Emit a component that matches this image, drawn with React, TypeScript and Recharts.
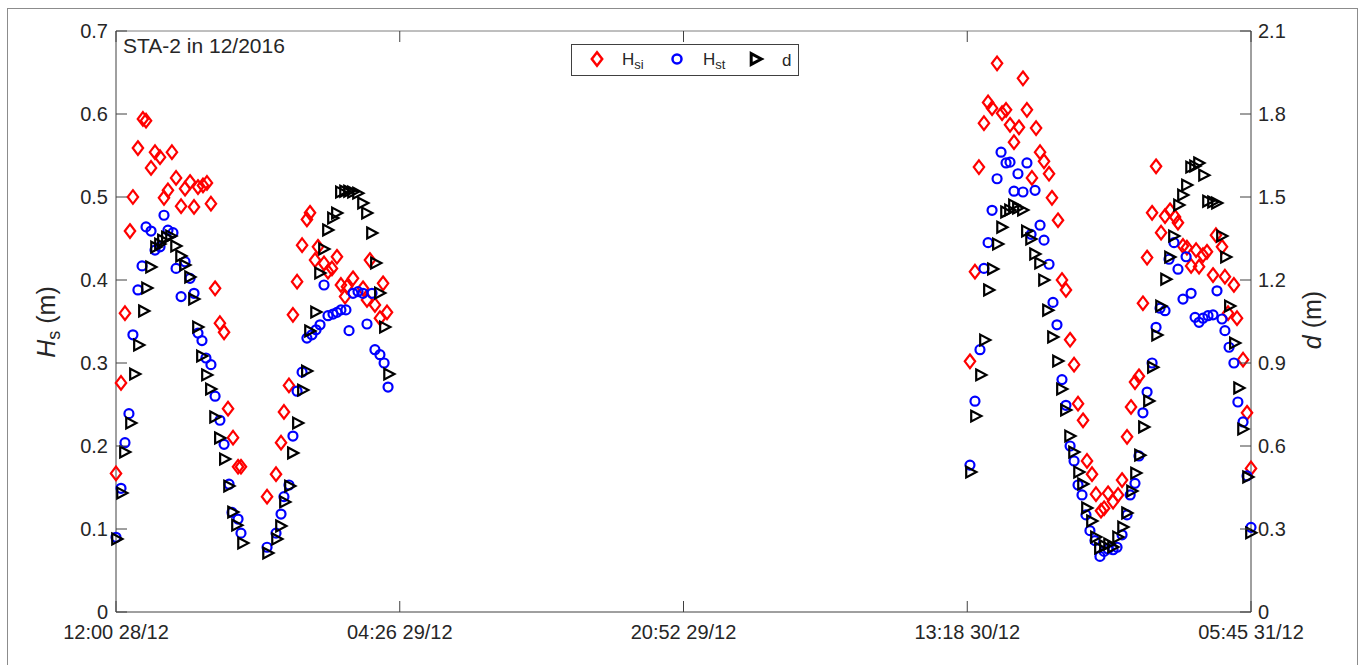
import { ScatterChart, Scatter, XAxis, YAxis, ReferenceLine } from "recharts";

// time in hours after 12:00 28/12
const hsiTime = [
  0, 0.29, 0.52, 0.81, 0.98, 1.27, 1.56, 1.74, 2.03, 2.26, 2.55, 2.78, 3.01, 3.24, 3.48, 3.77, 4.0, 4.29, 4.52, 4.75,
  5.04, 5.27, 5.5, 5.74, 6.02, 6.26, 6.49, 6.78, 7.07, 7.24, 8.75, 9.27, 9.56, 9.73, 10.02, 10.25, 10.49, 10.78,
  11.06, 11.24, 11.53, 11.7, 12.05, 12.28, 12.51, 12.8, 13.03, 13.27, 13.38, 13.73, 14.31, 14.54, 14.71, 15.0,
  15.29, 15.47, 15.7,
  49.47, 49.76, 49.99, 50.28, 50.52, 50.75, 51.04, 51.33, 51.56, 51.79, 52.02, 52.31, 52.54, 52.77, 53.06, 53.3,
  53.53, 53.76, 54.05, 54.22, 54.57, 54.8, 55.03, 55.27, 55.5, 55.73, 56.02, 56.25, 56.54, 56.77, 57.06, 57.24,
  57.47, 57.76, 58.05, 58.28, 58.57, 58.8, 59.03, 59.26, 59.49, 59.73, 60.02, 60.25, 60.54, 60.77, 61.06, 61.35,
  61.52, 61.81, 62.04, 62.28, 62.57, 62.74, 62.97, 63.2, 63.55, 63.72, 64.07, 64.24, 64.42, 64.76, 64.94, 65.29,
  65.52, 65.75,
];
const hsiValue = [
  0.167, 0.276, 0.36, 0.459, 0.5, 0.559, 0.594, 0.592, 0.535, 0.554, 0.548, 0.499, 0.508, 0.554, 0.523, 0.489,
  0.51, 0.518, 0.488, 0.512, 0.514, 0.517, 0.492, 0.39, 0.348, 0.337, 0.245, 0.21, 0.175, 0.175, 0.139, 0.166,
  0.204, 0.241, 0.273, 0.358, 0.398, 0.442, 0.473, 0.481, 0.424, 0.44, 0.42, 0.41, 0.414, 0.428, 0.394, 0.38,
  0.392, 0.402, 0.39, 0.376, 0.424, 0.37, 0.354, 0.396, 0.361,
  0.302, 0.41, 0.536, 0.589, 0.614, 0.607, 0.661, 0.601, 0.605, 0.587, 0.566, 0.584, 0.643, 0.605, 0.523, 0.583,
  0.554, 0.543, 0.528, 0.499, 0.472, 0.4, 0.388, 0.328, 0.298, 0.251, 0.231, 0.182, 0.166, 0.142, 0.122, 0.125,
  0.143, 0.133, 0.141, 0.159, 0.211, 0.247, 0.277, 0.284, 0.372, 0.427, 0.481, 0.537, 0.457, 0.477, 0.484, 0.476,
  0.469, 0.441, 0.439, 0.417, 0.436, 0.416, 0.43, 0.434, 0.406, 0.454, 0.44, 0.404, 0.36, 0.394, 0.354, 0.304,
  0.24, 0.173,
];

const hstTime = [
  0, 0.29, 0.52, 0.75, 0.98, 1.27, 1.51, 1.74, 2.03, 2.26, 2.55, 2.78, 3.01, 3.3, 3.48, 3.77, 4.0, 4.29, 4.52, 4.75,
  4.98, 5.21, 5.5, 5.74, 6.02, 6.26, 6.55, 6.72, 7.07, 7.24, 8.75, 9.27, 9.56, 9.73, 10.02, 10.25, 10.49, 10.78,
  11.06, 11.35, 11.59, 11.82, 12.05, 12.28, 12.57, 12.8, 13.03, 13.32, 13.5, 13.73, 14.02, 14.31, 14.54, 14.83,
  15.0, 15.29, 15.53, 15.76,
  49.47, 49.76, 50.05, 50.28, 50.52, 50.75, 51.04, 51.27, 51.56, 51.79, 52.02, 52.25, 52.54, 52.77, 53.01, 53.24,
  53.53, 53.76, 54.05, 54.28, 54.51, 54.8, 55.03, 55.27, 55.5, 55.73, 55.96, 56.19, 56.42, 56.71, 57.0, 57.24,
  57.47, 57.76, 57.99, 58.28, 58.57, 58.75, 59.03, 59.26, 59.49, 59.73, 60.02, 60.25, 60.48, 60.77, 61.0, 61.29,
  61.52, 61.81, 61.99, 62.28, 62.51, 62.74, 62.97, 63.26, 63.55, 63.78, 64.07, 64.24, 64.48, 64.76, 64.99, 65.29,
  65.52, 65.75,
];
const hstValue = [
  0.09, 0.149, 0.204, 0.239, 0.334, 0.388, 0.417, 0.464, 0.459, 0.436, 0.44, 0.478, 0.46, 0.457, 0.414, 0.38,
  0.422, 0.402, 0.384, 0.336, 0.327, 0.306, 0.298, 0.26, 0.231, 0.202, 0.154, 0.12, 0.112, 0.095, 0.078, 0.095,
  0.118, 0.139, 0.153, 0.212, 0.266, 0.289, 0.33, 0.334, 0.34, 0.346, 0.394, 0.357, 0.359, 0.361, 0.364, 0.364,
  0.339, 0.384, 0.386, 0.384, 0.347, 0.384, 0.316, 0.31, 0.3, 0.271,
  0.177, 0.254, 0.316, 0.414, 0.445, 0.484, 0.522, 0.554, 0.541, 0.542, 0.507, 0.528, 0.506, 0.541, 0.455, 0.508,
  0.466, 0.448, 0.419, 0.373, 0.346, 0.28, 0.249, 0.2, 0.182, 0.153, 0.141, 0.117, 0.098, 0.086, 0.067, 0.073,
  0.076, 0.075, 0.078, 0.093, 0.117, 0.141, 0.155, 0.188, 0.24, 0.265, 0.3, 0.343, 0.366, 0.363, 0.425, 0.445,
  0.413, 0.377, 0.428, 0.384, 0.355, 0.349, 0.354, 0.357, 0.358, 0.387, 0.353, 0.339, 0.319, 0.3, 0.253, 0.229,
  0.164, 0.102,
];

const dTime = [
  0.06, 0.35, 0.52, 0.87, 1.1, 1.33, 1.62, 1.8, 2.03, 2.32, 2.55, 2.72, 2.95, 3.19, 3.48, 3.77, 4.0, 4.29, 4.52,
  4.75, 4.98, 5.27, 5.5, 5.74, 6.02, 6.31, 6.55, 6.78, 7.01, 7.36, 8.81, 9.33, 9.56, 9.79, 10.08, 10.25, 10.54,
  10.83, 11.06, 11.24, 11.59, 11.82, 12.05, 12.28, 12.57, 12.8, 13.03, 13.27, 13.5, 13.73, 14.02, 14.31, 14.54,
  14.83, 15.06, 15.29, 15.58, 15.82,
  49.53, 49.82, 50.11, 50.34, 50.57, 50.8, 51.09, 51.33, 51.56, 51.79, 52.02, 52.25, 52.54, 52.77, 53.01, 53.24,
  53.53, 53.76, 53.99, 54.28, 54.57, 54.8, 55.03, 55.27, 55.5, 55.79, 56.02, 56.25, 56.54, 56.77, 57.0, 57.29,
  57.53, 57.76, 58.05, 58.34, 58.57, 58.86, 59.09, 59.32, 59.55, 59.84, 60.07, 60.31, 60.54, 60.83, 61.06, 61.29,
  61.58, 61.81, 62.04, 62.28, 62.51, 62.74, 63.03, 63.26, 63.55, 63.78, 64.07, 64.3, 64.53, 64.82, 65.06, 65.29,
  65.58, 65.75,
];
const dValue = [
  0.264, 0.43, 0.578, 0.683, 0.86, 0.965, 1.088, 1.171, 1.247, 1.319, 1.33, 1.344, 1.355, 1.359, 1.323, 1.287,
  1.254, 1.211, 1.131, 1.03, 0.925, 0.857, 0.806, 0.705, 0.629, 0.553, 0.455, 0.361, 0.314, 0.249, 0.213, 0.264,
  0.311, 0.398, 0.455, 0.575, 0.683, 0.802, 0.871, 1.016, 1.084, 1.225, 1.312, 1.381, 1.424, 1.442, 1.518, 1.521,
  1.521, 1.518, 1.514, 1.478, 1.442, 1.37, 1.261, 1.153, 1.03, 0.86,
  0.506, 0.708, 0.857, 0.983, 1.164, 1.24, 1.33, 1.391, 1.446, 1.453, 1.471, 1.46, 1.453, 1.377, 1.348, 1.294,
  1.261, 1.2, 1.091, 0.994, 0.907, 0.806, 0.73, 0.636, 0.578, 0.506, 0.463, 0.376, 0.329, 0.271, 0.231, 0.239,
  0.246, 0.235, 0.271, 0.307, 0.358, 0.437, 0.502, 0.567, 0.669, 0.763, 0.885, 1.001, 1.106, 1.203, 1.283, 1.359,
  1.471, 1.507, 1.543, 1.608, 1.612, 1.623, 1.579, 1.485, 1.482, 1.478, 1.359, 1.283, 1.106, 0.972, 0.81, 0.661,
  0.488, 0.286,
];

const xTicks = [0, 16.4375, 32.875, 49.3125, 65.75];
const xTickLabels = ["12:00 28/12", "04:26 29/12", "20:52 29/12", "13:18 30/12", "05:45 31/12"];
const leftTicks = [0, 0.1, 0.2, 0.3, 0.4, 0.5, 0.6, 0.7];
const rightTicks = [0, 0.3, 0.6, 0.9, 1.2, 1.5, 1.8, 2.1];

const zip = (t: number[], v: number[]) => t.map((x, i) => ({ t: x, v: v[i] }));
const hsiData = zip(hsiTime, hsiValue);
const hstData = zip(hstTime, hstValue);
const dData = zip(dTime, dValue);

const FONT = "'Liberation Sans', Arial, Helvetica, sans-serif";
const AXIS = "#404040";
const TEXT = "#262626";
const W = 1365;
const H = 665;
const LEFT = 116;
const RIGHT = 1251;
const TOP = 31;
const BOTTOM = 612;
const TICK = 11;

const diamondPath = (cx: number, cy: number) =>
  `M${cx},${cy - 6.8}L${cx + 5.2},${cy}L${cx},${cy + 6.8}L${cx - 5.2},${cy}Z`;
const trianglePath = (cx: number, cy: number) =>
  `M${cx - 4.8},${cy - 5.4}L${cx + 5.4},${cy}L${cx - 4.8},${cy + 5.4}Z`;

const DiamondShape = (p: any) => (
  <path d={diamondPath(p.cx, p.cy)} fill="none" stroke="#ff0000" strokeWidth={2.2} />
);
const CircleShape = (p: any) => (
  <circle cx={p.cx} cy={p.cy} r={4.5} fill="none" stroke="#0000ff" strokeWidth={2.2} />
);
const TriangleShape = (p: any) => (
  <path d={trianglePath(p.cx, p.cy)} fill="none" stroke="#000000" strokeWidth={2.2} />
);

const BottomTick = (p: any) => {
  const i = xTicks.indexOf(p.payload.value);
  return (
    <g>
      <line x1={p.x} x2={p.x} y1={BOTTOM} y2={BOTTOM - TICK} stroke={AXIS} />
      <line x1={p.x} x2={p.x} y1={TOP} y2={TOP + TICK} stroke={AXIS} />
      <text x={p.x} y={p.y} dy="0.78em" textAnchor="middle" fontSize={20} fontFamily={FONT} fill={TEXT}>
        {xTickLabels[i]}
      </text>
    </g>
  );
};

const LeftTick = (p: any) => (
  <g>
    <line x1={LEFT} x2={LEFT + TICK} y1={p.y} y2={p.y} stroke={AXIS} />
    <text x={p.x} y={p.y} dy="0.36em" textAnchor="end" fontSize={20} fontFamily={FONT} fill={TEXT}>
      {p.payload.value}
    </text>
  </g>
);

const RightTick = (p: any) => (
  <g>
    <line x1={RIGHT} x2={RIGHT - TICK} y1={p.y} y2={p.y} stroke={AXIS} />
    <text x={p.x} y={p.y} dy="0.36em" textAnchor="start" fontSize={20} fontFamily={FONT} fill={TEXT}>
      {p.payload.value}
    </text>
  </g>
);

function Overlay() {
  return (
    <svg width={W} height={H} style={{ position: "absolute", left: 0, top: 0, pointerEvents: "none" }}>
      <text x={123} y={53} fontSize={21} fontFamily={FONT} fill={TEXT}>
        STA-2 in 12/2016
      </text>
      <text
        x={55}
        y={322}
        transform="rotate(-90 55 322)"
        textAnchor="middle"
        fontSize={25}
        fontFamily={FONT}
        fill={TEXT}
      >
        <tspan fontStyle="italic">H</tspan>
        <tspan fontSize={18} dy={5}>s</tspan>
        <tspan dy={-5}> (m)</tspan>
      </text>
      <text
        x={1321}
        y={320}
        transform="rotate(-90 1321 320)"
        textAnchor="middle"
        fontSize={25}
        fontFamily={FONT}
        fill={TEXT}
      >
        <tspan fontStyle="italic">d</tspan>
        <tspan> (m)</tspan>
      </text>
      <rect x={571.5} y={44.5} width={227} height={31} fill="#ffffff" stroke={AXIS} strokeWidth={1} />
      <path d={diamondPath(597, 59)} fill="none" stroke="#ff0000" strokeWidth={2.5} />
      <text x={622} y={65} fontSize={17} fontFamily={FONT} fill={TEXT}>
        H<tspan fontSize={13} dy={4}>si</tspan>
      </text>
      <circle cx={677} cy={59} r={4.5} fill="none" stroke="#0000ff" strokeWidth={2.5} />
      <text x={703} y={65} fontSize={17} fontFamily={FONT} fill={TEXT}>
        H<tspan fontSize={13} dy={4}>st</tspan>
      </text>
      <path d={trianglePath(756, 59)} fill="none" stroke="#000000" strokeWidth={3} />
      <text x={782} y={66} fontSize={17} fontFamily={FONT} fill={TEXT}>
        d
      </text>
    </svg>
  );
}

export default function App() {
  return (
    <div
      style={{
        position: "absolute",
        left: 0,
        top: 0,
        width: W,
        height: H,
        overflow: "hidden",
        background: "#ffffff",
      }}
    >
      <div
        style={{
          position: "absolute",
          left: 7,
          top: 8,
          width: 1349,
          height: 700,
          border: "1px solid #8c8c8c",
        }}
      />
      <div style={{ position: "absolute", left: 0, top: 0 }}>
        <ScatterChart
          width={W}
          height={H}
          margin={{ top: TOP, right: W - RIGHT - 60, bottom: H - BOTTOM - 40, left: LEFT - 60 }}
        >
          <XAxis
            dataKey="t"
            type="number"
            domain={[0, 65.75]}
            ticks={xTicks}
            height={40}
            tickLine={false}
            tickSize={0}
            tickMargin={11}
            tick={<BottomTick />}
            axisLine={{ stroke: AXIS }}
          />
          <YAxis
            yAxisId="left"
            dataKey="v"
            type="number"
            domain={[0, 0.7]}
            ticks={leftTicks}
            width={60}
            tickLine={false}
            tickSize={0}
            tickMargin={8}
            tick={<LeftTick />}
            axisLine={{ stroke: AXIS }}
          />
          <YAxis
            yAxisId="right"
            orientation="right"
            dataKey="v"
            type="number"
            domain={[0, 2.1]}
            ticks={rightTicks}
            width={60}
            tickLine={false}
            tickSize={0}
            tickMargin={7}
            tick={<RightTick />}
            axisLine={{ stroke: AXIS }}
          />
          <ReferenceLine yAxisId="left" y={0.7} stroke="#7f7f7f" />
          <Scatter
            name="Hsi"
            data={hsiData}
            yAxisId="left"
            shape={DiamondShape}
            isAnimationActive={false}
          />
          <Scatter
            name="Hst"
            data={hstData}
            yAxisId="left"
            shape={CircleShape}
            isAnimationActive={false}
          />
          <Scatter
            name="d"
            data={dData}
            yAxisId="right"
            shape={TriangleShape}
            isAnimationActive={false}
          />
        </ScatterChart>
      </div>
      <Overlay />
    </div>
  );
}
